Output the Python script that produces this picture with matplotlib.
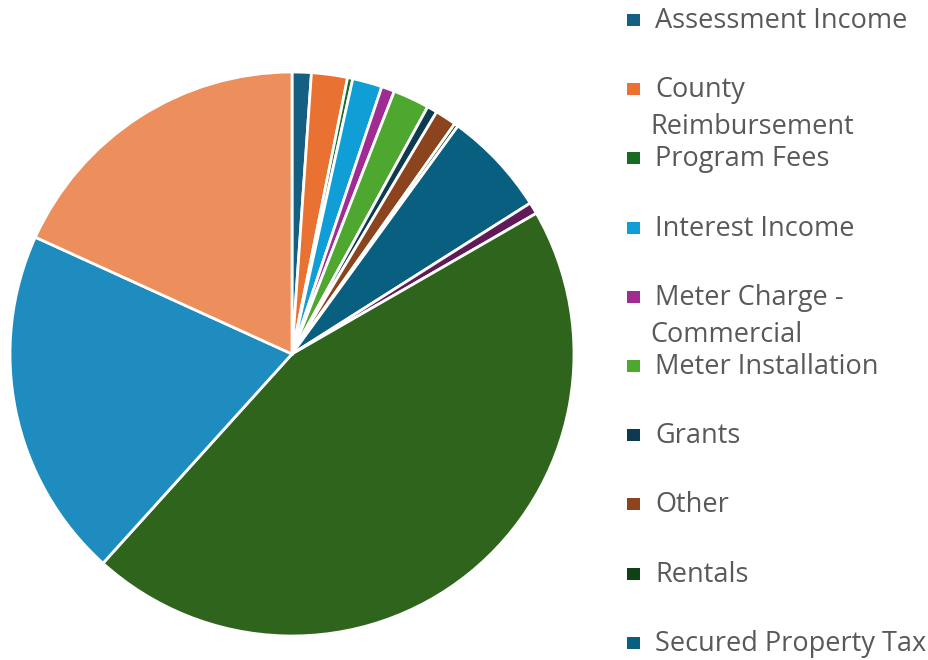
import matplotlib
matplotlib.use('Agg')
import matplotlib.pyplot as plt
from matplotlib.patches import Rectangle

# ── Data (percent share, clockwise from 12 o'clock) ──
labels = [
    'Assessment Income', 'County\nReimbursement', 'Program Fees',
    'Interest Income', 'Meter Charge -\nCommercial', 'Meter Installation',
    'Grants', 'Other', 'Rentals', 'Secured Property Tax',
    'Special Tax', 'Service Charges', 'Water Sales', 'Property Tax Allocation',
]
shares = [1.1, 2.06, 0.3, 1.7, 0.75, 2.08, 0.58, 1.22, 0.22, 6.0,
          0.67, 45.0, 20.1, 18.2]
colours = [
    '#156082', '#E97132', '#196B24', '#0F9ED5', '#A02B93', '#4EA72E',
    '#0D3A4E', '#8C441E', '#0F4016', '#095F80', '#601A58', '#2F641C',
    '#1F8CC0', '#ED8F5C',
]
N_LEGEND = 10   # legend is clipped by the chart area after 10 entries

W, H = 929, 660
fig = plt.figure(figsize=(W / 100, H / 100), dpi=100)
plt.rcParams['font.family'] = ['Open Sans', 'DejaVu Sans']

cx, cy, r = 292, 354, 282
ax = fig.add_axes([(cx - r) / W, (H - cy - r) / H, 2 * r / W, 2 * r / H])
ax.pie(shares, colors=colours, startangle=90, counterclock=False,
       wedgeprops=dict(edgecolor='white', linewidth=2.0))
ax.set_xlim(-1, 1)
ax.set_ylim(-1, 1)
ax.set_aspect('equal')
ax.axis('off')

# ── Legend (drawn by hand to copy Excel's spacing and wrapping) ──
FS = 19.5
y0, step = 20, 69.2
for i in range(N_LEGEND):
    y = y0 + i * step
    fig.add_artist(Rectangle((627 / W, 1 - (y + 6) / H), 13 / W, 12 / H,
                             transform=fig.transFigure, color=colours[i], lw=0))
    lines = labels[i].split('\n')
    fig.text(655 / W, 1 - (y + 1) / H, lines[0], fontsize=FS, color='#595959',
             va='center', ha='left')
    for k, extra in enumerate(lines[1:], start=1):
        fig.text(650 / W, 1 - (y + 1 + 37 * k) / H, extra, fontsize=FS,
                 color='#595959', va='center', ha='left')

fig.savefig('out.png', dpi=100)
